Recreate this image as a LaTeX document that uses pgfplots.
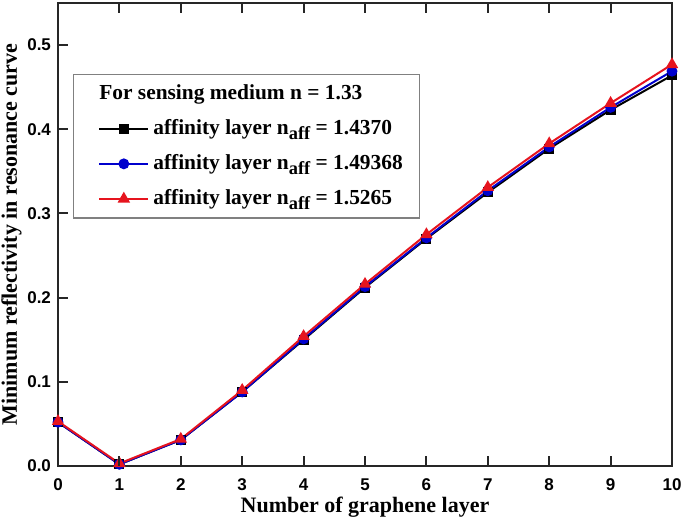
\documentclass[border=0pt]{standalone}
\usepackage{fontspec}
\setmainfont{Liberation Serif}
\setsansfont{Liberation Sans}
\usepackage{pgfplots}
\pgfplotsset{compat=1.18}

\definecolor{cblue}{RGB}{0,0,205}
\definecolor{cred}{RGB}{230,20,30}
\newcommand{\aff}{\raisebox{-0.45ex}{\fontsize{9.2}{9.2}\selectfont aff}}

\begin{document}
\begin{tikzpicture}
\begin{axis}[
  name=ax,
  scale only axis, width=307pt, height=231.5pt,
  xmin=0, xmax=10, ymin=0, ymax=0.55,
  xtick={0,1,2,3,4,5,6,7,8,9,10}, ytick={0,0.1,0.2,0.3,0.4,0.5},
  xtick pos=both, ytick pos=left,
  tick align=inside,
  major tick length=5pt,
  axis line style={line width=0.8pt, black!85},
  tick style={draw=black, line width=1pt},
  /pgf/number format/assume math mode=true,
  yticklabel style={/pgf/number format/fixed, /pgf/number format/fixed zerofill, /pgf/number format/precision=1},
  tick label style={font=\sffamily\bfseries\fontsize{8.5}{10}\selectfont},
  xticklabel style={yshift=-3pt},
  xlabel={Number of graphene layer},
  ylabel={Minimum reflectivity in resonance curve},
  label style={font=\bfseries\fontsize{11}{13}\selectfont},
  xlabel style={yshift=4pt},
  ylabel style={yshift=-4pt},
  legend style={at={(0.024,0.846)}, anchor=north west, draw=gray, line width=0.6pt,
    font=\bfseries\fontsize{10.7}{12.5}\selectfont, inner xsep=6.5pt, inner ysep=3pt,
    row sep=4.5pt, legend cell align=left},
  legend image code/.code={\path (0pt,0pt); \draw[mark repeat=2,mark phase=2] plot coordinates {(6pt,0pt) (18.25pt,0pt) (30.5pt,0pt)};},
  after end axis/.code={
    \foreach \t in {1,...,9} {
      \fill[black!85] ([xshift=-0.5pt]axis cs:\t,0) rectangle ++(1pt,5pt);
      \fill[black!85] ([xshift=-0.5pt]axis cs:\t,0.55) rectangle ++(1pt,-5pt);
    }
    \foreach \t in {0.1,0.2,0.3,0.4,0.5} {
      \fill[black!85] ([yshift=-0.5pt]axis cs:0,\t) rectangle ++(5pt,1pt);
    }
  },
]
\addlegendimage{empty legend}
\addlegendentry{\hspace{-27pt}For sensing medium n = 1.33}
\addplot[black, line width=1pt, mark=square*, mark size=2pt] coordinates
 {(0,0.052)(1,0.002)(2,0.031)(3,0.088)(4,0.150)(5,0.212)(6,0.270)(7,0.325)(8,0.377)(9,0.423)(10,0.464)};
\addlegendentry{affinity layer n\aff\ = 1.4370}
\addplot[cblue, line width=1pt, mark=*, mark size=2.2pt] coordinates
 {(0,0.052)(1,0.002)(2,0.031)(3,0.088)(4,0.151)(5,0.213)(6,0.271)(7,0.327)(8,0.379)(9,0.426)(10,0.469)};
\addlegendentry{affinity layer n\aff\ = 1.49368}
\addplot[cred, line width=1pt, mark=triangle*, mark size=2.6pt] coordinates
 {(0,0.053)(1,0.003)(2,0.032)(3,0.090)(4,0.154)(5,0.216)(6,0.275)(7,0.331)(8,0.383)(9,0.431)(10,0.477)};
\addlegendentry{affinity layer n\aff\ = 1.5265}
\end{axis}
\pgfresetboundingbox
\path ([shift={(-29pt,-26.5pt)}]ax.south west) rectangle ([shift={(6.5pt,1.5pt)}]ax.north east);
\end{tikzpicture}
\end{document}
